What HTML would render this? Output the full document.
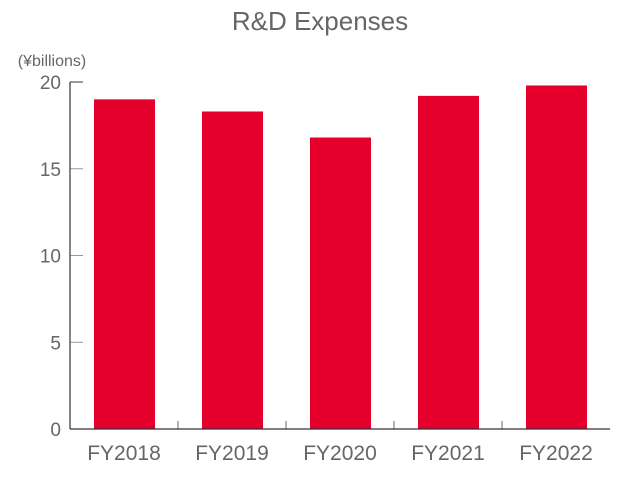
<!DOCTYPE html>
<html><head><meta charset="utf-8"><style>
html,body{margin:0;padding:0;background:#fff;}
svg{display:block;font-family:"Liberation Sans","Noto Sans CJK JP",sans-serif;}
</style></head><body>
<svg id="chart" width="640" height="480" viewBox="0 0 640 480">
<text x="320" y="30" text-anchor="middle" font-size="26" fill="#666">R&amp;D Expenses</text>
<text x="52" y="66" text-anchor="middle" font-size="16" fill="#666">(¥billions)</text>
<g id="plot"></g>
</svg>
<script>
const categories = ["FY2018","FY2019","FY2020","FY2021","FY2022"];
const values = [19.0, 18.3, 16.8, 19.2, 19.8];
const yTicks = [0,5,10,15,20];
const X0=70, X1=610, Y0=429, Y1=82, YMAX=20;
const ns="http://www.w3.org/2000/svg";
const g=document.getElementById('plot');
const y=v=>Y0-(v/YMAX)*(Y0-Y1);
const band=(X1-X0)/categories.length;
const x=i=>X0+band*i;
function mk(t,a){const e=document.createElementNS(ns,t);for(const k in a)e.setAttribute(k,a[k]);g.appendChild(e);return e;}
values.forEach((v,i)=>{
  const r=mk('rect',{x:x(i)+24,y:y(v),width:61,height:Y0-y(v),fill:'#e4002b'});
  
  
  const t=mk('text',{x:x(i)+band/2,y:460,'text-anchor':'middle','font-size':21,fill:'#666'});
  t.textContent=categories[i];
  
  
  if(i>0){
    const tk=mk('line',{x1:x(i),x2:x(i),y1:Y0,y2:Y0-8,stroke:'#666','stroke-width':1});
    
    
  }
});
yTicks.forEach(v=>{
  if(v>0){
    const l=mk('line',{x1:X0,x2:X0+13,y1:y(v),y2:y(v),stroke:v===YMAX?'#333':'#999','stroke-width':1});
    
    
  }
  const t=mk('text',{x:61,y:y(v)+7,'text-anchor':'end','font-size':19,fill:'#666'});
  t.textContent=v;
  
  
});
const ya=mk('line',{x1:X0,x2:X0,y1:Y1,y2:Y0,stroke:'#333','stroke-width':1.2});


const xa=mk('line',{x1:X0,x2:X1,y1:Y0,y2:Y0,stroke:'#333','stroke-width':1.2});


</script>
</body></html>
